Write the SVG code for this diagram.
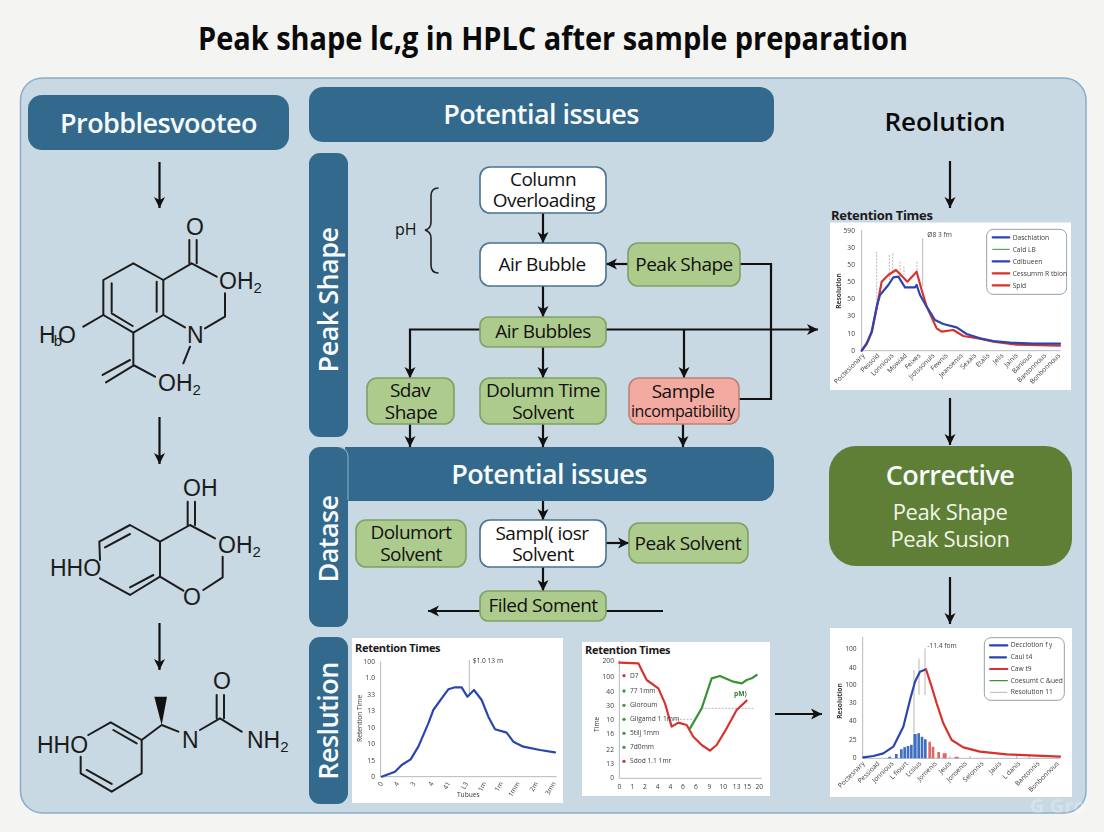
<svg xmlns="http://www.w3.org/2000/svg" width="1104" height="832" viewBox="0 0 1104 832">
<style>
text{font-family:"Open Sans","Noto Sans","Liberation Sans",sans-serif;fill:#111}
.hd{fill:#33698c}
.hw{fill:#f7fbfc;font-weight:600;text-anchor:middle;letter-spacing:-.55px}
.w{fill:#fff;stroke:#4a7390;stroke-width:1.6}
.g{fill:#aecb8e;stroke:#7fa067;stroke-width:1.6}
.r{fill:#f3aaa0;stroke:#bd8278;stroke-width:1.6}
.n{font-size:19px;text-anchor:middle;letter-spacing:-.5px}
.c{fill:none;stroke:#111;stroke-width:2.2}
.a{marker-end:url(#ah)}
.b{fill:none;stroke:#1c1c1c;stroke-width:6;stroke-linecap:round;stroke-linejoin:round}
.m{font-family:"Liberation Sans",Arial,sans-serif;font-size:23px;fill:#1c1c1c}
.s{font-size:15px}
.ch{fill:#fff}
.ax{fill:none;stroke:#b5b9bd;stroke-width:3}
.gl{fill:none;stroke:#a9a9a9;stroke-width:2.5}
.dl{fill:none;stroke:#a9a9a9;stroke-width:2.5;stroke-dasharray:6 4}
.tk{font-size:20px;fill:#3c3c3c}
.tk2{font-size:20px;fill:#3c3c3c;text-anchor:end}
.tt{font-weight:700;fill:#1a1a1a;letter-spacing:-.3px}
.bl{fill:none;stroke:#2a44ad;stroke-width:6.500;stroke-linejoin:round;stroke-linecap:round}
.rd{fill:none;stroke:#d8322d;stroke-width:6.500;stroke-linejoin:round;stroke-linecap:round}
.gn{fill:none;stroke:#3b9135;stroke-width:6.500;stroke-linejoin:round;stroke-linecap:round}
.lg{fill:#fff;stroke:#9aa0a5;stroke-width:3}
</style>
<defs>
<marker id="ah" markerUnits="userSpaceOnUse" markerWidth="12" markerHeight="12" refX="11" refY="6" orient="auto"><path d="M0,0.5 L11,6 L0,11.5 L3,6 z" fill="#111"/></marker>
<filter id="soft" x="-5%" y="-5%" width="110%" height="110%"><feGaussianBlur stdDeviation="0.35"/></filter>
</defs>
<rect width="1104" height="832" fill="#f4f4f3"/>
<text x="198" y="50" font-size="33" font-weight="700" textLength="710" lengthAdjust="spacingAndGlyphs" style="fill:#0a0a0a">Peak shape lc,g in HPLC after sample preparation</text>
<rect id="panel" x="20.5" y="78" width="1065.5" height="735" rx="22" fill="#c8d9e3" stroke="#8badc8" stroke-width="1.5"/>

<g id="connectors">
<path class="c a" d="M159.500 162V208"/>
<path class="c a" d="M159.500 417V464"/>
<path class="c a" d="M159.500 623V670"/>
<path class="c a" d="M950 161V208"/>
<path class="c a" d="M950 398V445"/>
<path class="c a" d="M950 577V624"/>
<path class="c a" d="M775 714H822"/>
<path class="c a" d="M543 213V243"/>
<path class="c a" d="M628 264H606"/>
<path class="c" d="M740 264H771V399H739"/>
<path class="c a" d="M543 286V317"/>
<path class="c a" d="M480 329.500H410V378"/>
<path class="c a" d="M606 329.500H818"/>
<path class="c a" d="M684 329.500V378"/>
<path class="c a" d="M543 347V378"/>
<path class="c a" d="M410 424V447"/>
<path class="c a" d="M543 424V447"/>
<path class="c a" d="M683 424V447"/>
<path class="c a" d="M543 501V520"/>
<path class="c a" d="M606 543H629"/>
<path class="c a" d="M543 567V591"/>
<path class="c a" d="M480 611H428"/>
<path class="c" d="M606 611H663"/>
</g>

<g id="hdr-problem"><rect class="hd" x="28" y="95" width="261" height="55" rx="14"/><text class="hw" x="158.500" y="132.500" font-size="27">Probblesvooteo</text></g>
<g id="hdr-issues"><rect class="hd" x="309" y="87" width="465" height="55" rx="14"/><text class="hw" x="541" y="124" font-size="27">Potential issues</text></g>
<g id="side-peak"><rect class="hd" x="309" y="153" width="39" height="284" rx="11"/><text class="hw" transform="translate(338,300) rotate(-90)" font-size="27">Peak Shape</text></g>
<g id="side-datase"><rect class="hd" x="309" y="447" width="39" height="180" rx="11"/><text class="hw" transform="translate(338,539) rotate(-90)" font-size="27">Datase</text></g>
<g id="hdr-issues2"><path class="hd" d="M345 447H760a14 14 0 0 1 14 14V487a14 14 0 0 1 -14 14H345z"/><path d="M340 447.500Q348 448 348 458V500" fill="none" stroke="#8fb4ca" stroke-width="1"/><text class="hw" x="549" y="484" font-size="27">Potential issues</text></g>
<g id="side-res"><rect class="hd" x="309" y="637" width="39" height="167" rx="11"/><text class="hw" transform="translate(338,721) rotate(-90)" font-size="27">Reslution</text></g>
<g id="hdr-res"><text x="945" y="131" font-size="26" font-weight="600" text-anchor="middle" style="fill:#0a0a0a">Reolution</text></g>

<g id="n-column"><rect class="w" x="480" y="167" width="126" height="46" rx="10"/><text class="n" x="543" y="186">Column</text><text class="n" x="544" y="207">Overloading</text></g>
<g id="n-air"><rect class="w" x="480" y="243" width="126" height="43" rx="10"/><text class="n" x="542" y="271">Air Bubble</text></g>
<g id="n-peak"><rect class="g" x="628" y="243" width="112" height="43" rx="10"/><text class="n" x="684" y="271">Peak Shape</text></g>
<g id="n-bubbles"><rect class="g" x="480" y="317" width="126" height="30" rx="8"/><text class="n" x="543" y="338">Air Bubbles</text></g>
<g id="n-sday"><rect class="g" x="367" y="378" width="87" height="46" rx="10"/><text class="n" x="410" y="397">Sdav</text><text class="n" x="411" y="419">Shape</text></g>
<g id="n-dolumn"><rect class="g" x="480" y="378" width="126" height="46" rx="10"/><text class="n" x="543" y="397">Dolumn Time</text><text class="n" x="543" y="419">Solvent</text></g>
<g id="n-sample"><rect class="r" x="629" y="378" width="110" height="46" rx="10"/><text class="n" x="683" y="398">Sample</text><text x="683" y="417" font-size="16" text-anchor="middle" style="letter-spacing:-.4px">incompatibility</text></g>
<g id="n-dolumort"><rect class="g" x="356" y="520" width="110" height="47" rx="10"/><text class="n" x="411" y="539">Dolumort</text><text class="n" x="411" y="561">Solvent</text></g>
<g id="n-sampl"><rect class="w" x="480" y="520" width="126" height="47" rx="10"/><text class="n" x="542" y="540">Sampl( iosr</text><text class="n" x="543" y="561">Solvent</text></g>
<g id="n-peaksolvent"><rect class="g" x="629" y="523" width="119" height="40" rx="10"/><text class="n" x="688" y="550">Peak Solvent</text></g>
<g id="n-filed"><rect class="g" x="480" y="591" width="126" height="30" rx="8"/><text class="n" x="543" y="612">Filed Soment</text></g>
<g id="n-corrective"><rect x="829" y="446" width="243" height="120" rx="27" fill="#5f7f37"/><text class="hw" x="950" y="485" font-size="27">Corrective</text><text x="950" y="520" font-size="22" text-anchor="middle" style="fill:#f2f6e8;letter-spacing:-.4px">Peak Shape</text><text x="950" y="547" font-size="22" text-anchor="middle" style="fill:#f2f6e8;letter-spacing:-.4px">Peak Susion</text></g>

<g id="ph"><text x="395" y="235" font-size="16">pH</text><path d="M438.500 188Q431 188 431 196V222Q431 229 425 230Q431 232 431 238V265Q431 273 438.500 273" fill="none" stroke="#222" stroke-width="1.600"/></g>

<g id="mol1">
<g transform="translate(20,200) scale(.33333)"><path class="b" d="M340 190L430 240V345L340 398L250 345V240Z"/><path class="b" d="M410 245V335M275 250V335M275 340L338 378M430 240L515 190M508 190V120M530 190V120M515 190L590 230M615 280V350L555 385M430 345L495 382M510 440L490 490M340 398V495L405 530M330 480L248 525M340 497L258 547M250 345L190 380"/></g>
<text class="m" x="186" y="235">O</text><text class="m" x="219" y="289">OH<tspan class="s" dy="4">2</tspan></text><text class="m" x="39" y="343">H<tspan class="s" dy="3" dx="-2">b</tspan><tspan dy="-3" dx="-4">O</tspan></text><text class="m" x="187" y="343">N</text><text class="m" x="158" y="391">OH<tspan class="s" dy="4">2</tspan></text>
</g>
<g id="mol2">
<g transform="translate(20,460) scale(.33333)"><path class="b" d="M240 300L238 245L330 195L420 245V350L330 405L240 355M255 262L330 222M330 382L400 345M420 245L510 195M503 195V125M525 195V125M510 195L585 235M608 290V352L550 390M420 350L490 392"/></g>
<text class="m" x="183" y="496">OH</text><text class="m" x="218" y="553">OH<tspan class="s" dy="4">2</tspan></text><text class="m" x="50" y="576">HHO</text><text class="m" x="183" y="605">O</text>
</g>
<g id="mol3">
<g transform="translate(20,460) scale(.33333)"><path class="b" d="M205 825L272 787L365 840V940L275 995L182 940V890M280 810L350 850M200 930L275 972M365 840L425 795L475 815M540 810L600 775L665 815M590 775V705M612 775V705"/><polygon points="403,710 441,710 425,795" fill="#111"/></g>
<text class="m" x="213" y="689">O</text><text class="m" x="182" y="748">N</text><text class="m" x="247" y="748">NH<tspan class="s" dy="4">2</tspan></text><text class="m" x="37" y="753">HHO</text>
</g>

<g id="chart1">
<text class="tt" x="831" y="220" font-size="13">Retention Times</text>
<rect class="ch" x="830" y="222.500" width="241" height="167.500"/>
<g transform="translate(820,200) scale(.33333)" filter="url(#soft)">
<path class="ax" d="M125 90V452H722"/>
<path class="dl" d="M170 155V320M208 165V240M218 160V220M240 185V240M252 200V240M291 185V215"/><path class="gl" d="M308 115V260"/>
<path class="rd" d="M125 452L140 432L155 398L170 325L185 245L205 225L228 210L262 245L290 215L305 270L320 320L350 385L365 395L400 390L430 408L480 416L520 425L590 434L720 437"/>
<path class="bl" d="M125 452L140 430L155 395L170 320L180 285L205 255L220 232L235 230L255 262L285 262L290 255L300 285L320 320L345 360L370 372L410 382L440 402L480 415L520 423L570 428L640 431L720 431"/>
<text class="tk" x="322" y="110">Ø8 3 fm</text>
<text class="tk2" x="105" y="98">590</text><text class="tk2" x="105" y="149">30</text><text class="tk2" x="105" y="200">50</text><text class="tk2" x="105" y="252">50</text><text class="tk2" x="105" y="303">50</text><text class="tk2" x="105" y="355">30</text><text class="tk2" x="105" y="407">10</text><text class="tk2" x="105" y="458">0</text>
<text x="0" y="0" class="tk" font-weight="700" text-anchor="middle" transform="translate(62,273) rotate(-90)">Resolution</text>
<rect class="lg" x="500" y="88" width="240" height="195" rx="20"/>
<path class="bl" d="M518 112H568M518 184H568" stroke-width="5"/><path class="gn" d="M518 148H568" style="stroke-width:3"/><path class="rd" d="M518 220H568M518 256H568" stroke-width="5"/>
<text class="tk" x="578" y="119">Daschiation</text><text class="tk" x="578" y="155">Cald  LB</text><text class="tk" x="578" y="191">Cdlbueen</text><text class="tk" x="578" y="227">Cessumm R tbion</text><text class="tk" x="578" y="263">Spid</text>
<text class="tk2" transform="translate(135,468) rotate(-45)">Poctesionary</text><text class="tk2" transform="translate(180,468) rotate(-45)">Pessold</text><text class="tk2" transform="translate(222,468) rotate(-45)">Lonnious</text><text class="tk2" transform="translate(262,468) rotate(-45)">Mowiad</text><text class="tk2" transform="translate(303,468) rotate(-45)">Feixes</text><text class="tk2" transform="translate(345,468) rotate(-45)">Jiotssonuls</text><text class="tk2" transform="translate(385,468) rotate(-45)">Fewnis</text><text class="tk2" transform="translate(430,468) rotate(-45)">Jeansenss</text><text class="tk2" transform="translate(470,468) rotate(-45)">Sexais</text><text class="tk2" transform="translate(510,468) rotate(-45)">Etalis</text><text class="tk2" transform="translate(552,468) rotate(-45)">Jelis</text><text class="tk2" transform="translate(595,468) rotate(-45)">Jainis</text><text class="tk2" transform="translate(637,468) rotate(-45)">Banious</text><text class="tk2" transform="translate(680,468) rotate(-45)">Bantonnous</text><text class="tk2" transform="translate(722,468) rotate(-45)">Bonbonnous</text>
</g>
</g>

<g id="chart2">
<rect class="ch" x="352" y="638" width="211" height="165"/>
<text class="tt" x="355" y="652" font-size="11">Retention Times</text>
<g transform="translate(340,630) scale(.33333)" filter="url(#soft)">
<path class="ax" d="M122 95V440H650"/><path class="gl" d="M388 90V200"/>
<path class="bl" d="M125 440L165 425L185 405L212 388L235 350L265 280L280 240L305 205L325 178L345 172L365 172L382 200L402 180L425 210L445 260L465 298L500 308L520 335L550 350L600 360L645 367"/>
<text class="tk" x="398" y="100">$1.0 13 m</text>
<text class="tk2" x="105" y="101">100</text><text class="tk2" x="105" y="151">1.0</text><text class="tk2" x="105" y="201">33</text><text class="tk2" x="105" y="249">13</text><text class="tk2" x="105" y="299">10</text><text class="tk2" x="105" y="348">10</text><text class="tk2" x="105" y="398">15</text><text class="tk2" x="105" y="446">0</text>
<text class="tk" text-anchor="middle" transform="translate(65,265) rotate(-90)">Retention Time</text>
<text class="tk" x="385" y="500" text-anchor="middle">Tubues</text>
<text class="tk2" transform="translate(130,460) rotate(-60)">0</text><text class="tk2" transform="translate(178,460) rotate(-60)">4</text><text class="tk2" transform="translate(228,460) rotate(-60)">3</text><text class="tk2" transform="translate(282,460) rotate(-60)">4</text><text class="tk2" transform="translate(332,460) rotate(-60)">41</text><text class="tk2" transform="translate(385,460) rotate(-60)">L3</text><text class="tk2" transform="translate(440,460) rotate(-60)">1m</text><text class="tk2" transform="translate(490,460) rotate(-60)">1m</text><text class="tk2" transform="translate(540,460) rotate(-60)">1mm</text><text class="tk2" transform="translate(595,460) rotate(-60)">2m</text><text class="tk2" transform="translate(648,460) rotate(-60)">3mn</text>
</g>
</g>

<g id="chart3">
<rect class="ch" x="582" y="642" width="188" height="154"/>
<text class="tt" x="585" y="654" font-size="11">Retention Times</text>
<g transform="translate(340,630) scale(.33333)" filter="url(#soft)">
<path class="ax" d="M838 90V445H1265"/>
<path class="dl" d="M1000 268H1060M1085 235H1240"/>
<path class="rd" d="M838 98L895 100L920 150L955 175L975 220L995 290L1015 278L1040 285L1060 320L1085 345L1110 362L1130 345L1160 295L1190 240L1220 212"/>
<path class="gn" d="M1050 295L1085 235L1115 145L1140 138L1180 155L1205 160L1220 150L1235 145L1250 135"/>
<text x="1182" y="198" font-size="20" font-weight="700" style="fill:#2e7d32">pM)</text>
<text class="tk2" x="822" y="100">200</text><text class="tk2" x="822" y="147">100</text><text class="tk2" x="822" y="191">40</text><text class="tk2" x="822" y="235">30</text><text class="tk2" x="822" y="277">10</text><text class="tk2" x="822" y="319">16</text><text class="tk2" x="822" y="365">22</text><text class="tk2" x="822" y="407">13</text><text class="tk2" x="822" y="451">0</text>
<text class="tk" text-anchor="middle" transform="translate(778,283) rotate(-90)">Time</text>
<circle cx="852" cy="137" r="5" fill="#b9423d"/><circle cx="852" cy="183" r="5" fill="#3f9a3a"/><circle cx="852" cy="226" r="5" fill="#3f9a3a"/><circle cx="852" cy="268" r="5" fill="#3f9a3a"/><circle cx="852" cy="310" r="5" fill="#3f9a3a"/><circle cx="852" cy="352" r="5" fill="#3f9a3a"/><circle cx="852" cy="394" r="5" fill="#d8322d"/>
<text class="tk" x="870" y="143">D7</text><text class="tk" x="870" y="189">77 1mm</text><text class="tk" x="870" y="232">Gloroum</text><text class="tk" x="870" y="274">Gligamd 1 1mm</text><text class="tk" x="870" y="316">5tilj 1mm</text><text class="tk" x="870" y="358">7d0mm</text><text class="tk" x="870" y="400">Sdod 1.1 1mr</text>
<text class="tk" x="838" y="478" text-anchor="middle">0</text><text class="tk" x="877" y="478" text-anchor="middle">1</text><text class="tk" x="915" y="478" text-anchor="middle">2</text><text class="tk" x="953" y="478" text-anchor="middle">4</text><text class="tk" x="991" y="478" text-anchor="middle">4</text><text class="tk" x="1029" y="478" text-anchor="middle">6</text><text class="tk" x="1068" y="478" text-anchor="middle">6</text><text class="tk" x="1108" y="478" text-anchor="middle">9</text><text class="tk" x="1150" y="478" text-anchor="middle">10</text><text class="tk" x="1190" y="478" text-anchor="middle">13</text><text class="tk" x="1222" y="478" text-anchor="middle">15</text><text class="tk" x="1258" y="478" text-anchor="middle">20</text>
</g>
</g>

<g id="chart4">
<rect class="ch" x="830" y="628" width="242" height="169"/>
<g transform="translate(820,620) scale(.33333)" filter="url(#soft)">
<path class="ax" d="M128 50V415H720"/>
<path fill="#3f6ec4" d="M205 410h8v5h-8zM225 402h8v13h-8zM240 388h8v27h-8zM250 382h8v33h-8zM260 378h8v37h-8zM270 374h8v41h-8zM280 342h10v73h-10zM292 340h8v75h-8zM302 350h8v65h-8zM312 358h8v57h-8z"/>
<path fill="#dc6a64" d="M325 365h8v50h-8zM335 380h8v35h-8zM352 396h8v19h-8zM368 400h12v15h-12zM404 410h12v5h-12z"/>
<path class="gl" d="M282 150V340M297 115V225M315 85V225M390 408V415M450 408V415M590 404V415M628 404V415"/>
<path class="bl" d="M130 412L160 408L190 400L220 380L250 320L270 240L285 185L300 155L318 148"/>
<path class="rd" d="M318 148L335 200L350 250L370 310L395 360L430 382L480 395L560 403L720 410"/>
<text class="tk" x="322" y="84">-11.4 fom</text>
<text class="tk2" x="110" y="94">100</text><text class="tk2" x="110" y="149">40</text><text class="tk2" x="110" y="202">100</text><text class="tk2" x="110" y="256">30</text><text class="tk2" x="110" y="310">40</text><text class="tk2" x="110" y="366">25</text><text class="tk2" x="110" y="420">0</text>
<text class="tk" font-weight="700" text-anchor="middle" transform="translate(66,243) rotate(-90)">Resolution</text>
<rect class="lg" x="493" y="53" width="240" height="188" rx="20"/>
<path class="bl" d="M510 76H562M510 112H558"/><path class="rd" d="M510 147H562"/><path class="gn" d="M510 182H562" style="stroke-width:4"/><path class="gl" d="M510 217H562"/>
<text class="tk" x="572" y="82">Decclotion f y</text><text class="tk" x="572" y="118">Caul  t4</text><text class="tk" x="572" y="153">Caw  t9</text><text class="tk" x="572" y="188">Coesumt  C &amp;ued</text><text class="tk" x="572" y="223">Resolution  11</text>
<text class="tk2" transform="translate(135,432) rotate(-45)">Poctesnary</text><text class="tk2" transform="translate(180,432) rotate(-45)">Pessioad</text><text class="tk2" transform="translate(222,432) rotate(-45)">Jonnious</text><text class="tk2" transform="translate(265,432) rotate(-45)">L fiourt</text><text class="tk2" transform="translate(305,432) rotate(-45)">Lcsius</text><text class="tk2" transform="translate(352,432) rotate(-45)">Jomenis</text><text class="tk2" transform="translate(395,432) rotate(-45)">Jeuis</text><text class="tk2" transform="translate(442,432) rotate(-45)">Jonsenis</text><text class="tk2" transform="translate(492,432) rotate(-45)">Selonnis</text><text class="tk2" transform="translate(545,432) rotate(-45)">Jauis</text><text class="tk2" transform="translate(602,432) rotate(-45)">L danis</text><text class="tk2" transform="translate(660,432) rotate(-45)">Bantonnis</text><text class="tk2" transform="translate(718,432) rotate(-45)">Bonbonnous</text>
</g>
</g>
<text id="mark" x="1030" y="813" font-size="20" font-weight="700" style="fill:#fff;opacity:.25">G Gro</text>
</svg>
